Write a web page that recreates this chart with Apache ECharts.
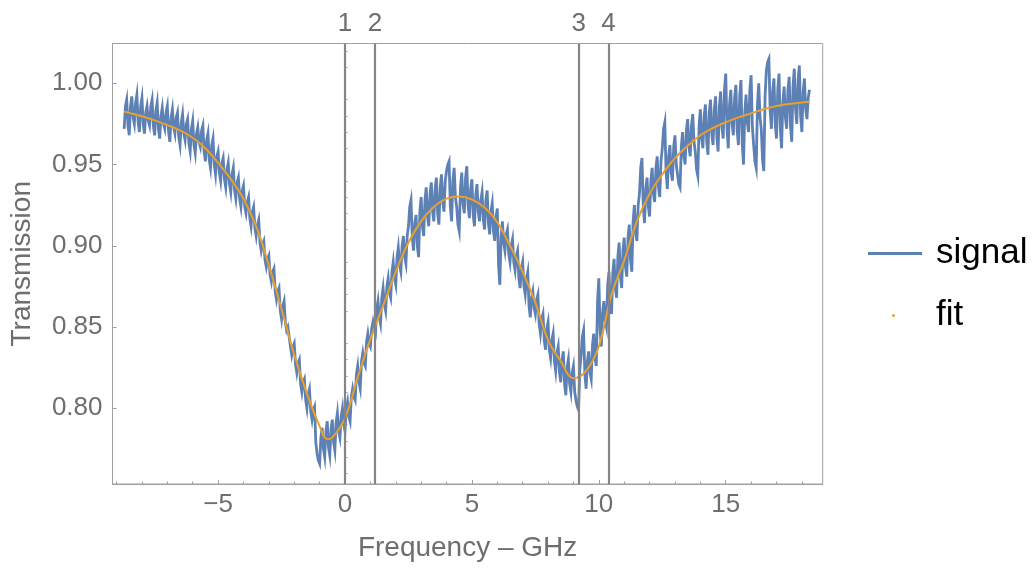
<!DOCTYPE html>
<html>
<head>
<meta charset="utf-8">
<script src="https://cdn.jsdelivr.net/npm/echarts@6/dist/echarts.min.js"></script>
<style>
html,body{margin:0;padding:0;background:#fff;}
#chart{width:1035px;height:568px;}
</style>
</head>
<body>
<div id="chart"></div>
<script>
// ---- data ----
const signalStart = -8.7;   // GHz, first sample
const signalStep = 0.1;     // GHz between samples of signalValues
const signalValues = [
  0.972, 0.990,
  0.968, 0.992, 0.975, 0.993, 0.970,
  0.991, 0.969, 0.986, 0.974, 0.990,
  0.968, 0.988, 0.966, 0.985, 0.972,
  0.986, 0.964, 0.984, 0.969, 0.982,
  0.962, 0.981, 0.965, 0.978, 0.958,
  0.977, 0.957, 0.973, 0.961, 0.974,
  0.952, 0.969, 0.948, 0.966, 0.944,
  0.958, 0.940, 0.954, 0.936, 0.951,
  0.933, 0.948, 0.929, 0.942, 0.924,
  0.937, 0.920, 0.930, 0.912, 0.924,
  0.906, 0.916, 0.897, 0.903, 0.887,
  0.894, 0.878, 0.886, 0.867, 0.874,
  0.855, 0.866, 0.848, 0.851, 0.833,
  0.840, 0.822, 0.830, 0.810, 0.818,
  0.800, 0.812, 0.793, 0.801, 0.772,
  0.766, 0.788, 0.770, 0.792, 0.771,
  0.793, 0.774, 0.797, 0.782, 0.800,
  0.786, 0.804, 0.792, 0.812, 0.805,
  0.826, 0.812, 0.834, 0.826, 0.846,
  0.838, 0.853, 0.846, 0.866, 0.852,
  0.874, 0.860, 0.880, 0.868, 0.890,
  0.876, 0.899, 0.884, 0.906, 0.889,
  0.912, 0.928, 0.897, 0.919, 0.893,
  0.930, 0.906, 0.936, 0.912, 0.939,
  0.915, 0.942, 0.913, 0.944, 0.921,
  0.946, 0.952, 0.915, 0.948, 0.924,
  0.909, 0.945, 0.920, 0.949, 0.917,
  0.941, 0.912, 0.938, 0.915, 0.933,
  0.910, 0.934, 0.907, 0.926, 0.903,
  0.923, 0.876, 0.915, 0.897, 0.910,
  0.890, 0.904, 0.885, 0.897, 0.874,
  0.890, 0.870, 0.884, 0.856, 0.872,
  0.858, 0.870, 0.846, 0.858, 0.836,
  0.853, 0.831, 0.846, 0.823, 0.838,
  0.816, 0.835, 0.808, 0.830, 0.810,
  0.826, 0.805, 0.799, 0.832, 0.848,
  0.812, 0.835, 0.818, 0.846, 0.826,
  0.880, 0.838, 0.866, 0.850, 0.884,
  0.858, 0.892, 0.868, 0.902, 0.874,
  0.905, 0.881, 0.913, 0.884, 0.925,
  0.903, 0.932, 0.954, 0.914, 0.942,
  0.918, 0.948, 0.927, 0.955, 0.930,
  0.960, 0.976, 0.935, 0.962, 0.940,
  0.968, 0.944, 0.936, 0.970, 0.950,
  0.978, 0.955, 0.981, 0.958, 0.943,
  0.984, 0.960, 0.987, 0.956, 0.990,
  0.962, 0.992, 0.958, 0.995, 0.966,
  1.006, 0.960, 0.996, 0.968, 0.999,
  0.962, 1.002, 0.950, 0.993, 0.970,
  1.005, 0.962, 0.948, 1.000, 0.972,
  0.946, 1.008, 1.015, 0.972, 1.003,
  0.966, 1.006, 0.960, 0.998, 0.972,
  1.004, 0.964, 1.009, 0.975, 1.011,
  0.970, 1.003, 0.978, 0.996
];
// samples half-way between the ones above (x = signalStart + signalStep*(i + 0.5))
const signalMidValues = [
  0.986, 0.974, 0.986, 0.979, 0.988, 0.976, 0.986,
  0.975, 0.982, 0.977, 0.986, 0.974,
  0.983, 0.972, 0.980, 0.975, 0.982,
  0.970, 0.979, 0.973, 0.979, 0.967,
  0.976, 0.969, 0.975, 0.963, 0.972,
  0.962, 0.969, 0.964, 0.971, 0.958,
  0.965, 0.953, 0.962, 0.950, 0.955,
  0.945, 0.951, 0.941, 0.947, 0.938,
  0.944, 0.934, 0.939, 0.929, 0.934,
  0.924, 0.927, 0.917, 0.921, 0.911,
  0.913, 0.902, 0.901, 0.891, 0.892,
  0.882, 0.884, 0.872, 0.872, 0.860,
  0.863, 0.853, 0.850, 0.838, 0.838,
  0.827, 0.828, 0.815, 0.816, 0.805,
  0.809, 0.798, 0.799, 0.779, 0.768,
  0.782, 0.775, 0.786, 0.776, 0.787,
  0.779, 0.791, 0.786, 0.795, 0.790,
  0.800, 0.795, 0.807, 0.807, 0.821,
  0.816, 0.829, 0.828, 0.841, 0.840,
  0.849, 0.848, 0.861, 0.856, 0.868,
  0.864, 0.875, 0.871, 0.884, 0.880,
  0.893, 0.888, 0.900, 0.893, 0.906,
  0.924, 0.905, 0.914, 0.900, 0.921,
  0.912, 0.928, 0.918, 0.932, 0.921,
  0.935, 0.920, 0.936, 0.927, 0.940,
  0.950, 0.924, 0.940, 0.930, 0.913,
  0.936, 0.926, 0.942, 0.925, 0.935,
  0.919, 0.931, 0.921, 0.928, 0.916,
  0.928, 0.914, 0.921, 0.909, 0.918,
  0.888, 0.905, 0.902, 0.907, 0.895,
  0.900, 0.890, 0.894, 0.880, 0.886,
  0.875, 0.880, 0.863, 0.868, 0.862,
  0.867, 0.852, 0.855, 0.842, 0.849,
  0.836, 0.842, 0.829, 0.834, 0.822,
  0.830, 0.815, 0.825, 0.815, 0.822,
  0.810, 0.801, 0.824, 0.844, 0.821,
  0.829, 0.822, 0.839, 0.831, 0.866,
  0.848, 0.859, 0.854, 0.876, 0.864,
  0.883, 0.874, 0.893, 0.881, 0.897,
  0.887, 0.905, 0.891, 0.915, 0.908,
  0.925, 0.948, 0.924, 0.935, 0.924,
  0.940, 0.932, 0.948, 0.936, 0.952,
  0.972, 0.945, 0.955, 0.945, 0.961,
  0.950, 0.938, 0.961, 0.955, 0.971,
  0.961, 0.974, 0.964, 0.947, 0.974,
  0.966, 0.980, 0.964, 0.982, 0.969,
  0.984, 0.967, 0.986, 0.973, 0.996,
  0.972, 0.987, 0.975, 0.991, 0.971,
  0.992, 0.963, 0.982, 0.976, 0.996,
  0.973, 0.952, 0.987, 0.979, 0.953,
  0.992, 1.013, 0.983, 0.995, 0.975,
  0.996, 0.972, 0.988, 0.979, 0.996,
  0.974, 0.998, 0.984, 1.002, 0.980,
  0.995, 0.984, 0.991
];

const fitX = [-8.7, -8.5, -8.0, -7.5, -7.0, -6.5, -6.0, -5.5, -5.0, -4.5, -4.0, -3.5, -3.0, -2.5, -2.0, -1.5, -1.0, -0.7, -0.5, 0.0, 0.5, 1.0, 1.5, 2.0, 2.5, 3.0, 3.5, 4.0, 4.5, 5.0, 5.5, 6.0, 6.5, 7.0, 7.5, 8.0, 8.5, 9.0, 9.5, 10.0, 10.5, 11.0, 11.5, 12.0, 12.5, 13.0, 13.5, 14.0, 14.5, 15.0, 15.5, 16.0, 16.5, 17.0, 17.5, 18.0, 18.3];
const fitY = [0.9826, 0.9818, 0.9797, 0.9772, 0.9743, 0.9710, 0.9665, 0.9600, 0.9510, 0.9410, 0.9290, 0.9120, 0.8880, 0.8610, 0.8330, 0.8090, 0.7890, 0.7810, 0.7820, 0.7938, 0.8190, 0.8425, 0.8630, 0.8840, 0.9020, 0.9150, 0.9240, 0.9290, 0.9303, 0.9285, 0.9235, 0.9145, 0.9000, 0.8840, 0.8650, 0.8420, 0.8290, 0.8185, 0.8230, 0.8380, 0.8700, 0.8910, 0.9150, 0.9320, 0.9440, 0.9540, 0.9615, 0.9680, 0.9725, 0.9760, 0.9790, 0.9815, 0.9840, 0.9860, 0.9873, 0.9882, 0.9887];

const markerX = [0, 1.18, 9.21, 10.38];
const markerLabels = ['1', '2', '3', '4'];

const xMajorTicks = [-5, 0, 5, 10, 15];
const xTickLabels = ['\u22125', '0', '5', '10', '15'];
const xMinorTicks = [-9, -8, -7, -6, -4, -3, -2, -1, 1, 2, 3, 4, 6, 7, 8, 9, 11, 12, 13, 14, 16, 17, 18];
const yMajorTicks = [0.80, 0.85, 0.90, 0.95, 1.00];
const yTickLabels = ['0.80', '0.85', '0.90', '0.95', '1.00'];
const yMinorTicks = [0.76, 0.77, 0.78, 0.79, 0.81, 0.82, 0.83, 0.84, 0.86, 0.87, 0.88, 0.89, 0.91, 0.92, 0.93, 0.94, 0.96, 0.97, 0.98, 0.99, 1.01, 1.02];

const xMin = -9.16, xMax = 18.82, yMin = 0.7534, yMax = 1.0245;

// ---- build chart ----
const signalData = [];
signalValues.forEach((v, i) => {
  signalData.push([+(signalStart + i * signalStep).toFixed(3), v]);
  if (i < signalMidValues.length) {
    signalData.push([+(signalStart + (i + 0.5) * signalStep).toFixed(3), signalMidValues[i]]);
  }
});
const fitData = fitX.map((x, i) => [x, fitY[i]]);

const gray = '#6e6e6e';
const frame = '#a0a0a0';
const FONT = 'Liberation Sans, Arial, sans-serif';

const chart = echarts.init(document.getElementById('chart'), null, {renderer: 'canvas'});
chart.setOption({
  animation: false,
  backgroundColor: '#fff',
  textStyle: {fontFamily: FONT},
  grid: {left: 112.5, right: 212.3, top: 43.5, bottom: 84, show: true, borderColor: frame, borderWidth: 1, backgroundColor: 'transparent'},
  legend: [
    {
      data: [{name: 'signal', icon: 'rect'}],
      left: 863, top: 231, itemWidth: 54, itemHeight: 3, orient: 'vertical',
      textStyle: {fontSize: 35, color: '#000', fontFamily: FONT, padding: [0, 0, 0, 9]},
      selectedMode: false
    },
    {
      data: [{name: 'fit', icon: 'circle'}],
      left: 887, top: 293, itemWidth: 3, itemHeight: 3, orient: 'vertical',
      textStyle: {fontSize: 35, color: '#000', fontFamily: FONT, padding: [0, 0, 0, 36]},
      selectedMode: false
    }
  ],
  xAxis: [
    {
      type: 'value', min: xMin, max: xMax,
      name: 'Frequency \u2013 GHz', nameLocation: 'middle', nameGap: 50,
      nameTextStyle: {fontSize: 28, color: gray, fontFamily: FONT},
      axisLine: {show: true, onZero: false, lineStyle: {color: frame, width: 1}},
      axisTick: {show: true, inside: true, length: 4, customValues: xMajorTicks, lineStyle: {color: frame}},
      axisLabel: {
        customValues: xMajorTicks, fontSize: 26, color: gray, margin: 8, fontFamily: FONT,
        formatter: v => { const i = xMajorTicks.findIndex(t => Math.abs(t - v) < 1e-6); return i >= 0 ? xTickLabels[i] : ''; }
      },
      splitLine: {show: false}
    },
    {
      type: 'value', min: xMin, max: xMax, position: 'bottom',
      axisLine: {show: false},
      axisTick: {show: true, inside: true, length: 2.5, customValues: xMinorTicks, lineStyle: {color: frame}},
      axisLabel: {show: false},
      splitLine: {show: false}
    }
  ],
  yAxis: [
    {
      type: 'value', min: yMin, max: yMax,
      name: 'Transmission', nameLocation: 'middle', nameGap: 76,
      nameTextStyle: {fontSize: 28, color: gray, fontFamily: FONT},
      axisLine: {show: true, onZero: false, lineStyle: {color: frame, width: 1}},
      axisTick: {show: true, inside: true, length: 4, customValues: yMajorTicks, lineStyle: {color: frame}},
      axisLabel: {
        customValues: yMajorTicks, fontSize: 26, color: gray, margin: 10, fontFamily: FONT,
        formatter: v => { const i = yMajorTicks.findIndex(t => Math.abs(t - v) < 1e-6); return i >= 0 ? yTickLabels[i] : ''; }
      },
      splitLine: {show: false}
    },
    {
      type: 'value', min: yMin, max: yMax, position: 'left',
      axisLine: {show: false},
      axisTick: {show: true, inside: true, length: 2.5, customValues: yMinorTicks, lineStyle: {color: frame}},
      axisLabel: {show: false},
      splitLine: {show: false}
    }
  ],
  series: [
    {
      name: 'signal', type: 'line', data: signalData, showSymbol: false, symbol: 'none',
      xAxisIndex: 0, yAxisIndex: 0,
      color: '#5E81B5',
      lineStyle: {color: '#5E81B5', width: 2.8, join: 'miter'},
      z: 2
    },
    {
      name: 'fit', type: 'line', data: fitData, showSymbol: false, symbol: 'circle', smooth: 0.4,
      xAxisIndex: 0, yAxisIndex: 0,
      color: '#E8A02A',
      lineStyle: {color: '#E8A02A', width: 2},
      z: 3,
      markLine: {
        silent: true, symbol: ['none', 'none'],
        lineStyle: {color: '#858585', width: 2.2, type: 'solid'},
        label: {show: true, position: 'end', formatter: '{b}', fontSize: 26, color: gray, distance: 7, fontFamily: FONT},
        data: markerX.map((x, i) => ({xAxis: x, name: markerLabels[i]}))
      }
    }
  ]
});
</script>
</body>
</html>
